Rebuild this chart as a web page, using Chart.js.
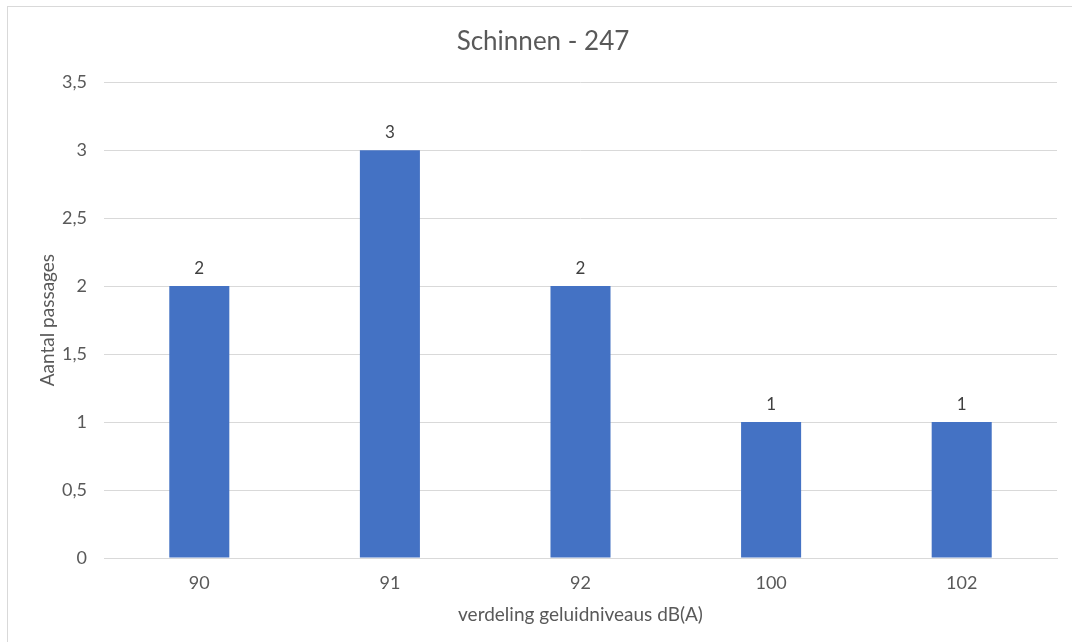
<!DOCTYPE html>
<html>
<head>
<meta charset="utf-8">
<script src="https://cdn.jsdelivr.net/npm/chart.js@4.4.1/dist/chart.umd.min.js"></script>
<style>
  html, body { margin: 0; padding: 0; background: #fff; overflow: hidden; }
  #wrap { position: relative; width: 1072px; height: 642px; }
  #frame { position: absolute; left: 7px; top: 6px; width: 1100px; height: 700px;
           border: 1px solid #d9d9d9; box-sizing: border-box; pointer-events: none; }
</style>
</head>
<body>
<div id="wrap">
  <canvas id="chart" width="1072" height="642"></canvas>
  <div id="frame"></div>
</div>
<script>
const categories = ['90', '91', '92', '100', '102'];
const passages = [2, 3, 2, 1, 1];
const chartTitle = 'Schinnen - 247';
const xTitle = 'verdeling geluidniveaus dB(A)';
const yTitle = 'Aantal passages';

const fontFamily = 'Lato, "Open Sans", sans-serif';
const textColor = '#595959';

const fmt = v => String(v).replace('.', ',');

// value labels above each bar
const valueLabels = {
  id: 'valueLabels',
  afterDatasetsDraw(chart) {
    const ctx = chart.ctx;
    const meta = chart.getDatasetMeta(0);
    ctx.save();
    ctx.font = '17px ' + fontFamily;
    ctx.fillStyle = '#404040';
    ctx.textAlign = 'center';
    ctx.textBaseline = 'middle';
    meta.data.forEach((bar, i) => {
      ctx.fillText(fmt(passages[i]), bar.x, bar.y - 18);
    });
    ctx.restore();
  }
};

new Chart(document.getElementById('chart'), {
  type: 'bar',
  data: {
    labels: categories,
    datasets: [{
      data: passages,
      backgroundColor: '#4472C4',
      borderWidth: 0,
      barPercentage: 0.315,
      categoryPercentage: 1
    }]
  },
  options: {
    responsive: false,
    animation: false,
    // left padding pushes the centred title over the plot area like the original
    layout: { padding: { top: 0, right: 15, bottom: 0, left: 29 } },
    plugins: {
      legend: { display: false },
      tooltip: { enabled: false },
      title: {
        display: true,
        text: chartTitle,
        color: textColor,
        font: { family: fontFamily, size: 26, weight: 'normal', lineHeight: 1.2 },
        padding: { top: 26, bottom: 25 }
      }
    },
    scales: {
      x: {
        grid: { display: false, drawTicks: false },
        border: { display: true, color: '#d9d9d9', width: 1 },
        ticks: { color: textColor, font: { family: fontFamily, size: 18 }, padding: 14 },
        title: {
          display: true, text: xTitle, color: textColor,
          font: { family: fontFamily, size: 19, lineHeight: 1.2 },
          padding: { top: 16, bottom: 16 }
        },
        afterFit(scale) { scale.height = 84; }
      },
      y: {
        min: 0,
        max: 3.5,
        ticks: {
          stepSize: 0.5,
          color: textColor,
          font: { family: fontFamily, size: 18 },
          padding: 17,
          callback: v => fmt(v)
        },
        grid: { color: '#d9d9d9', lineWidth: 1, drawTicks: false },
        border: { display: false },
        title: {
          display: true, text: yTitle, color: textColor,
          font: { family: fontFamily, size: 19, lineHeight: 1.2 },
          padding: { top: 7, bottom: 7 }
        },
        afterFit(scale) { scale.width = 75; }
      }
    }
  },
  plugins: [valueLabels]
});
</script>
</body>
</html>
